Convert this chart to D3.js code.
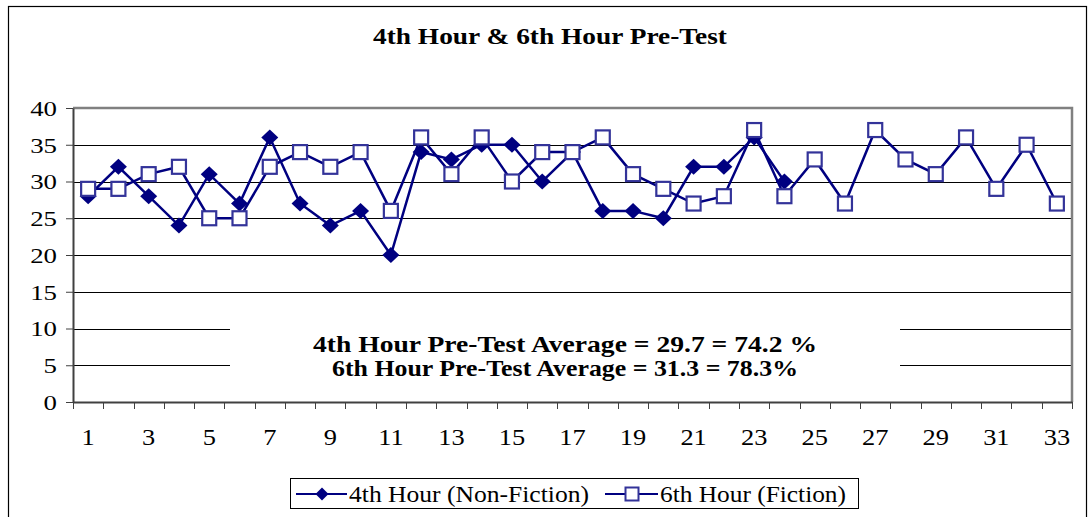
<!DOCTYPE html>
<html>
<head>
<meta charset="utf-8">
<script src="https://cdn.jsdelivr.net/npm/d3@7"></script>
<style>
  html, body { margin: 0; padding: 0; background: #fff; }
  svg { display: block; }
</style>
</head>
<body>
<svg id="chart" width="1091" height="517" font-family="Liberation Serif"></svg>
<script>
// ---- data ----
const categories = d3.range(1, 34);
const hour4 = [28, 32, 28, 24, 31, 27, 36, 27, 24, 26, 20, 34, 33, 35, 35, 30, 34, 26, 26, 25, 32, 32, 36, 30];
const hour6 = [29, 29, 31, 32, 25, 25, 32, 34, 32, 34, 26, 36, 31, 36, 30, 34, 34, 36, 31, 29, 27, 28, 37, 28, 33, 27, 37, 33, 31, 36, 29, 35, 27];
const yTicks = [0, 5, 10, 15, 20, 25, 30, 35, 40];
const xTickLabels = categories.filter(d => d % 2 === 1);
const seriesNames = ["4th Hour (Non-Fiction)", "6th Hour (Fiction)"];
const titleText = "4th Hour & 6th Hour Pre-Test";
const noteLines = ["4th Hour Pre-Test Average = 29.7 = 74.2 %", "6th Hour Pre-Test Average = 31.3 = 78.3%"];

// ---- layout ----
const FONT = "Liberation Serif";
const svg = d3.select("#chart");
const plot = { left: 73, right: 1072, top: 108, bottom: 402 };
const navy = "#000080";
const squareStroke = "#333399";

// stretch a text horizontally by a factor (or to a fixed width)
function stretch(sel, factor, width) {
  sel.each(function() {
    const L = this.getComputedTextLength();
    if (L > 0) {
      d3.select(this).attr("textLength", width != null ? width : L * factor)
        .attr("lengthAdjust", "spacingAndGlyphs");
    }
  });
}

// outer chart border
svg.append("rect").attr("x", 8.5).attr("y", 6.5).attr("width", 1078).attr("height", 520)
  .attr("fill", "none").attr("stroke", "#000").attr("stroke-width", 1.2);

const x = d3.scaleBand().domain(categories).range([plot.left, plot.right]).padding(0);
const y = d3.scaleLinear().domain([0, 40]).range([plot.bottom, plot.top]);
const cx = d => x(d) + x.bandwidth() / 2;

// title
svg.append("text").attr("x", 550).attr("y", 44).attr("text-anchor", "middle")
  .attr("font-family", FONT).attr("font-size", 23).attr("font-weight", "bold").text(titleText)
  .call(stretch, 1, 354);

// gridlines
svg.append("g").selectAll("line").data(yTicks.filter(v => v > 0 && v < 40)).join("line")
  .attr("x1", plot.left).attr("x2", plot.right)
  .attr("y1", d => Math.round(y(d)) + 0.5).attr("y2", d => Math.round(y(d)) + 0.5)
  .attr("stroke", "#000").attr("stroke-width", 1);

// plot area border (top & right)
svg.append("path")
  .attr("d", `M${plot.left},${plot.top}H${plot.right}V${plot.bottom}`)
  .attr("fill", "none").attr("stroke", "#808080").attr("stroke-width", 2.5);

// y axis
const yAxis = svg.append("g").attr("transform", `translate(${plot.left},0)`)
  .call(d3.axisLeft(y).tickValues(yTicks).tickSize(7).tickPadding(9).tickSizeOuter(0));
yAxis.attr("font-family", FONT);
yAxis.select(".domain").attr("stroke", "#404040").attr("stroke-width", 2);
yAxis.selectAll(".tick line").attr("stroke", "#404040");
yAxis.selectAll(".tick text").attr("font-size", 22).attr("fill", "#000").attr("dy", "0.34em")
  .call(stretch, 1.22);

// x axis
const xAxis = svg.append("g").attr("transform", `translate(0,${plot.bottom})`)
  .call(d3.axisBottom(x).tickSize(0).tickPadding(0).tickSizeOuter(0)
    .tickFormat(d => xTickLabels.includes(d) ? String(d) : ""));
xAxis.attr("font-family", FONT);
xAxis.select(".domain").attr("stroke", "#404040").attr("stroke-width", 2);
xAxis.selectAll(".tick text").attr("font-size", 24).attr("fill", "#000")
  .attr("y", 43).attr("dy", 0)
  .call(stretch, 1.1);
// ticks at category boundaries
const bounds = categories.map(d => x(d)).concat([x(categories[categories.length - 1]) + x.bandwidth()]);
svg.append("g").selectAll("line").data(bounds).join("line")
  .attr("x1", d => Math.round(d) + 0.5).attr("x2", d => Math.round(d) + 0.5)
  .attr("y1", plot.bottom).attr("y2", plot.bottom + 7)
  .attr("stroke", "#404040").attr("stroke-width", 1);

// note box (white background hides gridlines)
svg.append("rect").attr("x", 230).attr("y", 318).attr("width", 670).attr("height", 66).attr("fill", "#fff");
svg.append("g").selectAll("text").data(noteLines).join("text")
  .attr("x", 565).attr("y", (d, i) => 352 + i * 24)
  .attr("text-anchor", "middle").attr("font-family", FONT).attr("font-size", 23).attr("font-weight", "bold")
  .text(d => d)
  .each(function(d, i) { d3.select(this).call(stretch, 1, i === 0 ? 504 : 466); });

// lines and markers
const line = d3.line().x((d, i) => cx(categories[i])).y(d => y(d));
svg.append("path").datum(hour4).attr("d", line).attr("fill", "none")
  .attr("stroke", navy).attr("stroke-width", 2.5);
svg.append("g").selectAll("path").data(hour4).join("path")
  .attr("transform", (d, i) => `translate(${cx(categories[i])},${y(d)})`)
  .attr("d", "M0,-8L8.5,0L0,8L-8.5,0Z").attr("fill", navy);

svg.append("path").datum(hour6).attr("d", line).attr("fill", "none")
  .attr("stroke", navy).attr("stroke-width", 2.5);
svg.append("g").selectAll("rect").data(hour6).join("rect")
  .attr("x", (d, i) => cx(categories[i]) - 7).attr("y", d => y(d) - 7)
  .attr("width", 14).attr("height", 14)
  .attr("fill", "#fff").attr("stroke", squareStroke).attr("stroke-width", 2.2);

// legend
const lg = svg.append("g").attr("font-family", FONT);
lg.append("rect").attr("x", 290.5).attr("y", 478.5).attr("width", 568).attr("height", 30)
  .attr("fill", "#fff").attr("stroke", "#000").attr("stroke-width", 1);
lg.append("line").attr("x1", 296).attr("x2", 347).attr("y1", 494).attr("y2", 494)
  .attr("stroke", navy).attr("stroke-width", 2);
lg.append("path").attr("transform", "translate(322,494)").attr("d", "M0,-6.5L6.5,0L0,6.5L-6.5,0Z").attr("fill", navy);
lg.append("text").attr("x", 349).attr("y", 502).attr("font-size", 23).text(seriesNames[0])
  .call(stretch, 1, 240);
lg.append("line").attr("x1", 605).attr("x2", 658).attr("y1", 494).attr("y2", 494)
  .attr("stroke", navy).attr("stroke-width", 2);
lg.append("rect").attr("x", 625.5).attr("y", 487.5).attr("width", 13).attr("height", 13)
  .attr("fill", "#fff").attr("stroke", squareStroke).attr("stroke-width", 2);
lg.append("text").attr("x", 660).attr("y", 502).attr("font-size", 23).text(seriesNames[1])
  .call(stretch, 1, 186);
</script>
</body>
</html>
